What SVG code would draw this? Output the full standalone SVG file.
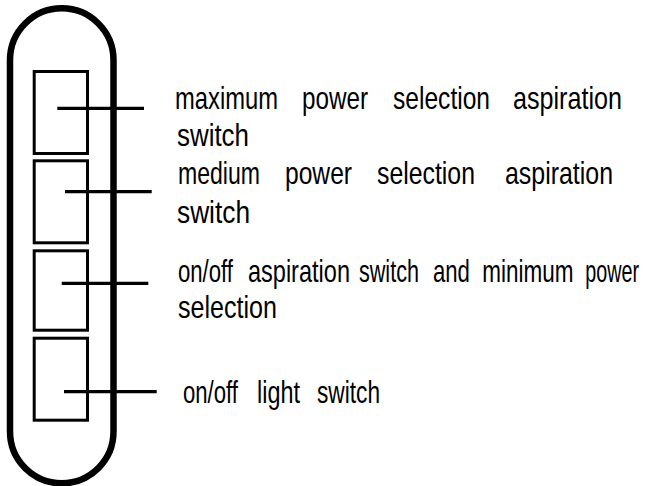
<svg xmlns="http://www.w3.org/2000/svg" width="648" height="486" viewBox="0 0 648 486">
<style>
.pill{fill:none;stroke:#000;stroke-width:6.5}
.sw{fill:none;stroke:#000;stroke-width:3}
.ld{stroke:#000;stroke-width:3.2;fill:none}
.lbl{font-family:"Liberation Sans Narrow","Liberation Sans",Arial,sans-serif;font-size:31px;fill:#000}
</style>
<rect width="648" height="486" fill="#fff"/>
<g id="panel">
<rect class="pill" x="10" y="8.3" width="103.5" height="475" rx="51.75" ry="51.75"/>
</g>
<g id="switch-max"><rect class="sw" x="34.2" y="71.5" width="53.3" height="82"/></g>
<g id="switch-medium"><rect class="sw" x="34.2" y="160.8" width="53.3" height="82"/></g>
<g id="switch-onoff-aspiration"><rect class="sw" x="34.2" y="250.8" width="53.3" height="79.4"/></g>
<g id="switch-light"><rect class="sw" x="34.2" y="338.2" width="53.3" height="82"/></g>
<g id="connectors">
<line class="ld" x1="57.3" y1="108.3" x2="144" y2="108.3"/>
<line class="ld" x1="65" y1="191.7" x2="151.7" y2="191.7"/>
<line class="ld" x1="61.7" y1="283.3" x2="148.3" y2="283.3"/>
<line class="ld" x1="64" y1="391.7" x2="156.7" y2="391.7"/>
</g>
<g id="labels">
<text class="lbl" transform="translate(175,109) scale(0.78,1)"><tspan x="0" textLength="132" lengthAdjust="spacingAndGlyphs">maximum</tspan> <tspan x="162.8" textLength="84.6" lengthAdjust="spacingAndGlyphs">power</tspan> <tspan x="279.5" textLength="124.4" lengthAdjust="spacingAndGlyphs">selection</tspan> <tspan x="433.3" textLength="139.7" lengthAdjust="spacingAndGlyphs">aspiration</tspan></text>
<text class="lbl" transform="translate(177,146) scale(0.78,1)"><tspan x="0" textLength="92.3" lengthAdjust="spacingAndGlyphs">switch</tspan></text>
<text class="lbl" transform="translate(178,184) scale(0.78,1)"><tspan x="0" textLength="105.1" lengthAdjust="spacingAndGlyphs">medium</tspan> <tspan x="137.2" textLength="85.9" lengthAdjust="spacingAndGlyphs">power</tspan> <tspan x="255.1" textLength="125.6" lengthAdjust="spacingAndGlyphs">selection</tspan> <tspan x="419.2" textLength="138.5" lengthAdjust="spacingAndGlyphs">aspiration</tspan></text>
<text class="lbl" transform="translate(177,223) scale(0.78,1)"><tspan x="0" textLength="93.6" lengthAdjust="spacingAndGlyphs">switch</tspan></text>
<text class="lbl" transform="translate(178,282) scale(0.78,1)"><tspan x="0" textLength="70.5" lengthAdjust="spacingAndGlyphs">on/off</tspan> <tspan x="89.7" textLength="130.8" lengthAdjust="spacingAndGlyphs">aspiration</tspan> <tspan x="232" textLength="76.9" lengthAdjust="spacingAndGlyphs">switch</tspan> <tspan x="326.9" textLength="47.4" lengthAdjust="spacingAndGlyphs">and</tspan> <tspan x="390" textLength="117" lengthAdjust="spacingAndGlyphs">minimum</tspan> <tspan x="522" textLength="69" lengthAdjust="spacingAndGlyphs">power</tspan></text>
<text class="lbl" transform="translate(178,318) scale(0.78,1)"><tspan x="0" textLength="126.9" lengthAdjust="spacingAndGlyphs">selection</tspan></text>
<text class="lbl" transform="translate(183,403) scale(0.78,1)"><tspan x="0" textLength="70.5" lengthAdjust="spacingAndGlyphs">on/off</tspan> <tspan x="94.9" textLength="55.1" lengthAdjust="spacingAndGlyphs">light</tspan> <tspan x="171.8" textLength="80.8" lengthAdjust="spacingAndGlyphs">switch</tspan></text>
</g>
</svg>
